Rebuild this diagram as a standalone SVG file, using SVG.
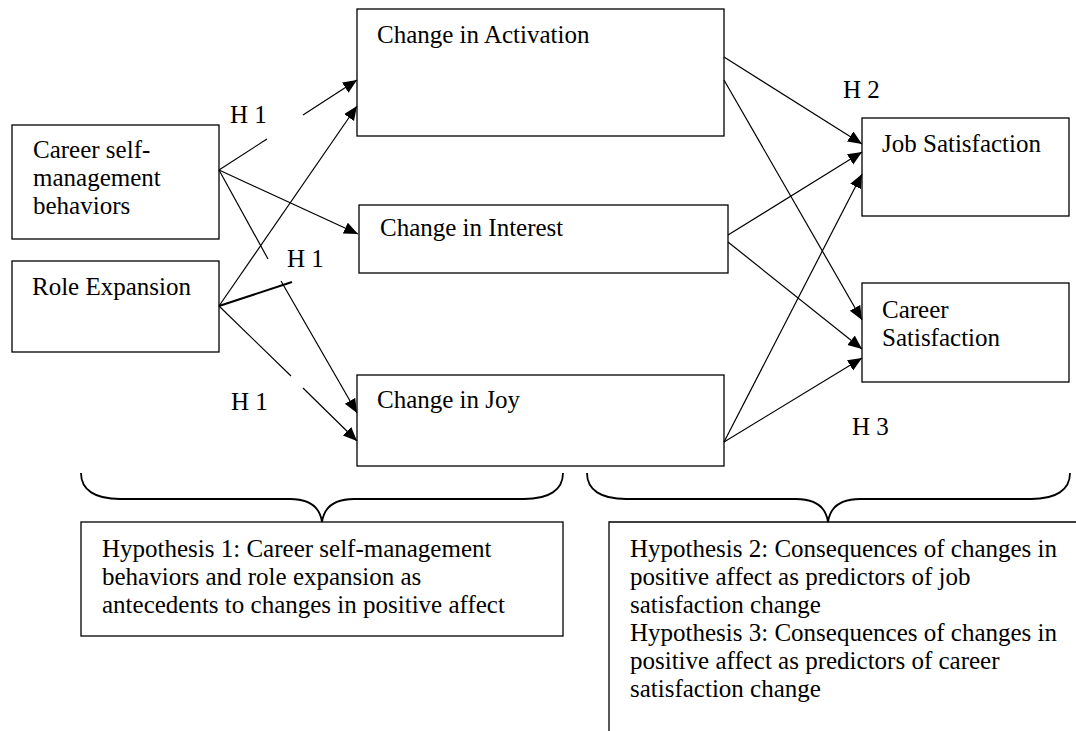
<svg xmlns="http://www.w3.org/2000/svg" width="1076" height="731" viewBox="0 0 1076 731">
<style>
  .box { fill: #ffffff; stroke: #000000; stroke-width: 1.3; }
  .t { font-family: "Liberation Serif", "Times New Roman", serif; font-size: 25px; fill: #000000; }
  .ln { stroke: #000000; stroke-width: 1.2; fill: none; }
  .ar { stroke: #000000; stroke-width: 1.2; fill: none; marker-end: url(#ah); }
  .brace { stroke: #000000; stroke-width: 1.8; fill: none; }
</style>
<defs>
  <marker id="ah" markerUnits="userSpaceOnUse" markerWidth="15" markerHeight="13" refX="14" refY="6" orient="auto">
    <path d="M0,0 L14,6 L0,12 z" fill="#000000"/>
  </marker>
</defs>
<rect width="1076" height="731" fill="#ffffff"/>

<g id="career-self-management">
  <rect class="box" x="12" y="125" width="207" height="114"/>
  <text class="t" x="33" y="158">Career self-</text>
  <text class="t" x="33" y="186">management</text>
  <text class="t" x="33" y="214">behaviors</text>
</g>
<g id="role-expansion">
  <rect class="box" x="12" y="261" width="207" height="91"/>
  <text class="t" x="32" y="295">Role Expansion</text>
</g>
<g id="change-activation">
  <rect class="box" x="357" y="9" width="367" height="127"/>
  <text class="t" x="377" y="43">Change in Activation</text>
</g>
<g id="change-interest">
  <rect class="box" x="359" y="205" width="369" height="68"/>
  <text class="t" x="380" y="236">Change in Interest</text>
</g>
<g id="change-joy">
  <rect class="box" x="357" y="375" width="367" height="91"/>
  <text class="t" x="377" y="408">Change in Joy</text>
</g>
<g id="job-satisfaction">
  <rect class="box" x="862" y="118" width="207" height="98"/>
  <text class="t" x="882" y="152">Job Satisfaction</text>
</g>
<g id="career-satisfaction">
  <rect class="box" x="862" y="283" width="207" height="99"/>
  <text class="t" x="882" y="318">Career</text>
  <text class="t" x="882" y="346">Satisfaction</text>
</g>

<g id="connectors">
  <line class="ln" x1="219" y1="170" x2="267" y2="139"/>
  <line class="ar" x1="303" y1="115" x2="357" y2="80"/>
  <line class="ar" x1="219" y1="170" x2="358" y2="234"/>
  <line class="ln" x1="219" y1="170" x2="268" y2="259"/>
  <line class="ar" x1="219" y1="306" x2="357" y2="106"/>
  <line class="ln" x1="219" y1="306" x2="292" y2="282" style="stroke-width:2"/>
  <line class="ar" x1="281" y1="281" x2="357" y2="413"/>
  <line class="ln" x1="219" y1="306" x2="291" y2="376"/>
  <line class="ar" x1="303" y1="388" x2="357" y2="441"/>
  <line class="ar" x1="724" y1="57" x2="862" y2="144"/>
  <line class="ar" x1="724" y1="80" x2="862" y2="320"/>
  <line class="ar" x1="728" y1="235" x2="862" y2="152"/>
  <line class="ar" x1="728" y1="242" x2="862" y2="349"/>
  <line class="ar" x1="724" y1="442" x2="862" y2="174"/>
  <line class="ar" x1="724" y1="442" x2="862" y2="358"/>
</g>

<g id="labels">
  <text class="t" x="230" y="123">H 1</text>
  <text class="t" x="287" y="267">H 1</text>
  <text class="t" x="231" y="410">H 1</text>
  <text class="t" x="843" y="98">H 2</text>
  <text class="t" x="852" y="435">H 3</text>
</g>

<g id="braces">
  <path class="brace" d="M81,473 C81,490 95,499 120,499 L290,499 C310,499 320,508 322,522 C324,508 334,499 354,499 L524,499 C549,499 563,490 563,473"/>
  <path class="brace" d="M587,473 C587,490 601,499 626,499 L796,499 C816,499 826,508 828,522 C830,508 840,499 860,499 L1031,499 C1056,499 1070,490 1070,473"/>
</g>

<g id="hypothesis-1">
  <rect class="box" x="81" y="522" width="482" height="114"/>
  <text class="t" x="102" y="557">Hypothesis 1: Career self-management</text>
  <text class="t" x="102" y="585">behaviors and role expansion as</text>
  <text class="t" x="102" y="613">antecedents to changes in positive affect</text>
</g>
<g id="hypothesis-2-3">
  <path class="box" d="M1080,522 H609 V735" style="fill:none"/>
  <text class="t" x="630" y="557">Hypothesis 2: Consequences of changes in</text>
  <text class="t" x="630" y="585">positive affect as predictors of job</text>
  <text class="t" x="630" y="613">satisfaction change</text>
  <text class="t" x="630" y="641">Hypothesis 3: Consequences of changes in</text>
  <text class="t" x="630" y="669">positive affect as predictors of career</text>
  <text class="t" x="630" y="697">satisfaction change</text>
</g>
</svg>
